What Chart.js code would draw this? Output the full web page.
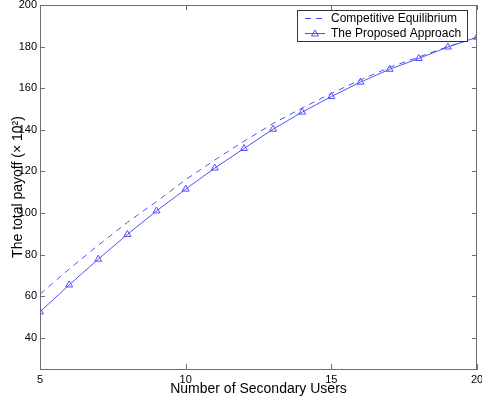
<!DOCTYPE html>
<html>
<head>
<meta charset="utf-8">
<script src="https://cdn.jsdelivr.net/npm/chart.js@4"></script>
<style>
  html, body { margin:0; padding:0; background:#fff; }
  #wrap { width:482px; height:402px; }
</style>
</head>
<body>
<div id="wrap"><canvas id="payoffChart" width="482" height="402"></canvas></div>
<script>
const users = [5,6,7,8,9,10,11,12,13,14,15,16,17,18,19,20];
const competitive = [61,73,84.5,95.5,105.5,116,125.5,134.5,143,150.5,157.5,164,170,175,180,184.5];
const proposed = [52.5,65.4,77.8,89.7,101,111.5,121.6,131,140.3,148.5,156,162.9,169.1,174.3,179.8,184.5];
const xTicks = [5,10,15,20];
const yTicks = [40,60,80,100,120,140,160,180,200];

const lineBlue = '#5050ff';
const axisGrey = '#6e6e6e';

// MATLAB style box: top/right border, inside tick marks, framed legend
const boxPlugin = {
  id: 'matlabBox',
  afterDraw(chart) {
    const {ctx, chartArea: a, scales: {x, y}} = chart;
    ctx.save();
    ctx.strokeStyle = axisGrey;
    ctx.lineWidth = 1;
    ctx.beginPath();
    ctx.moveTo(a.left, a.top + 0.5); ctx.lineTo(a.right, a.top + 0.5);
    ctx.moveTo(a.right - 0.5, a.top); ctx.lineTo(a.right - 0.5, a.bottom);
    xTicks.forEach(v => {
      const px = Math.round(x.getPixelForValue(v)) + 0.5;
      ctx.moveTo(px, a.bottom); ctx.lineTo(px, a.bottom - 5);
      ctx.moveTo(px, a.top); ctx.lineTo(px, a.top + 5);
    });
    yTicks.forEach(v => {
      const py = Math.round(y.getPixelForValue(v)) + 0.5;
      ctx.moveTo(a.left, py); ctx.lineTo(a.left + 5, py);
      ctx.moveTo(a.right, py); ctx.lineTo(a.right - 5, py);
    });
    ctx.stroke();

    // legend
    const lx = 297, ly = 10, lw = 170, lh = 31;
    ctx.fillStyle = '#fff';
    ctx.fillRect(lx, ly, lw, lh);
    ctx.strokeStyle = '#333';
    ctx.strokeRect(lx + 0.5, ly + 0.5, lw, lh);
    ctx.font = '12px "Liberation Sans", Arial, sans-serif';
    ctx.textBaseline = 'middle';
    chart.data.datasets.forEach((ds, i) => {
      const cy = ly + 8.5 + i * 15;
      ctx.strokeStyle = ds.borderColor;
      ctx.setLineDash(ds.borderDash || []);
      ctx.beginPath();
      ctx.moveTo(lx + 8, cy); ctx.lineTo(lx + 28, cy);
      ctx.stroke();
      ctx.setLineDash([]);
      if (ds.pointRadius > 0) {
        const r = 3.5, cx = lx + 18;
        ctx.beginPath();
        ctx.moveTo(cx, cy - r); ctx.lineTo(cx + r, cy + r * 0.7); ctx.lineTo(cx - r, cy + r * 0.7);
        ctx.closePath();
        ctx.stroke();
      }
      ctx.fillStyle = '#000';
      ctx.fillText(ds.label, lx + 34, cy + 0.5);
    });
    ctx.restore();
  }
};

new Chart(document.getElementById('payoffChart'), {
  type: 'line',
  data: {
    datasets: [
      {
        label: 'Competitive Equilibrium',
        data: users.map((u, i) => ({x: u, y: competitive[i]})),
        borderColor: lineBlue,
        borderWidth: 1,
        borderDash: [6, 5],
        pointRadius: 0,
        tension: 0
      },
      {
        label: 'The Proposed Approach',
        data: users.map((u, i) => ({x: u, y: proposed[i]})),
        borderColor: lineBlue,
        borderWidth: 1,
        pointStyle: 'triangle',
        pointRadius: 4,
        pointBorderWidth: 1,
        pointBorderColor: lineBlue,
        pointBackgroundColor: 'rgba(255,255,255,0)',
        tension: 0
      }
    ]
  },
  options: {
    responsive: false,
    animation: false,
    layout: { padding: { top: 5, right: 1, left: 0, bottom: 0 } },
    plugins: { legend: { display: false }, tooltip: { enabled: false } },
    scales: {
      x: {
        type: 'linear',
        min: 5, max: 20,
        afterBuildTicks: s => { s.ticks = xTicks.map(v => ({value: v})); },
        afterFit: s => { s.height = 33; s.paddingLeft = 0; s.paddingRight = 0; },
        grid: { display: false, drawTicks: false },
        border: { display: true, color: axisGrey },
        ticks: { color: '#000', padding: 4, maxRotation: 0, font: { family: '"Liberation Sans", Arial, sans-serif', size: 11 } },
        title: {
          display: true,
          text: 'Number of Secondary Users',
          color: '#000',
          padding: { top: 0, bottom: 4 },
          font: { family: '"Liberation Sans", Arial, sans-serif', size: 14 }
        }
      },
      y: {
        min: 25, max: 200,
        afterBuildTicks: s => { s.ticks = yTicks.map(v => ({value: v})); },
        afterFit: s => { s.width = 40; s.paddingTop = 0; s.paddingBottom = 0; },
        grid: { display: false, drawTicks: false },
        border: { display: true, color: axisGrey },
        ticks: { color: '#000', padding: 3, font: { family: '"Liberation Sans", Arial, sans-serif', size: 11 } },
        title: {
          display: true,
          text: 'The total payoff (× 10²)',
          color: '#000',
          padding: { top: 10, bottom: 0 },
          font: { family: '"Liberation Sans", Arial, sans-serif', size: 14 }
        }
      }
    }
  },
  plugins: [boxPlugin]
});
</script>
</body>
</html>
